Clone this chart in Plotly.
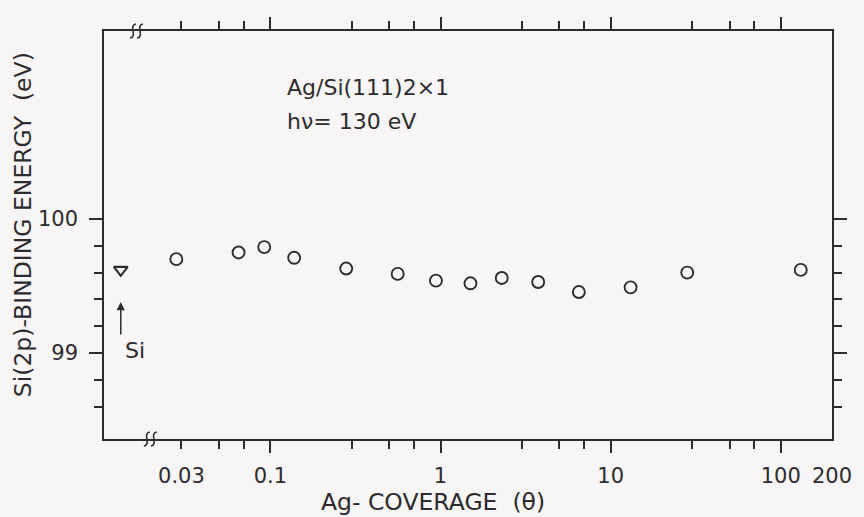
import numpy as np
import plotly.graph_objects as go

# ---- data ----
coverage = [0.028, 0.065, 0.092, 0.138, 0.279, 0.56, 0.94, 1.5, 2.29, 3.75, 6.5, 13.1, 28.2, 131]
binding_energy = [99.70, 99.75, 99.79, 99.71, 99.63, 99.59, 99.54, 99.52, 99.56, 99.53, 99.455, 99.49, 99.60, 99.62]
si_ref_position = [0.0132]   # plotted left of the axis break
si_ref_energy = [99.62]

x_major = [0.1, 1, 10, 100]
x_minor = [0.03, 0.05, 0.07, 0.3, 0.5, 0.7, 3, 5, 7, 30, 50, 70]
x_label_vals = [0.03, 0.1, 1, 10, 100, 200]
x_label_text = ["0.03", "0.1", "1", "10", "100", "200"]
y_major = [99, 100]
y_major_text = ["99", "100"]
y_minor = [98.6, 98.8, 99.2, 99.4, 99.6, 99.8]

# ---- style ----
INK = "#2d2b2d"
BG = "#f7f5f6"
FONT = "DejaVu Sans"
XR = [-1.978, 2.301]
YR = [98.36, 101.40]
LW = 1.6
CLEAR = "rgba(0,0,0,0)"
PLOT_H = 517 - 31 - 78
PX = (YR[1] - YR[0]) / PLOT_H   # data units per pixel on y

fig = go.Figure()
fig.add_trace(go.Scatter(
    x=coverage, y=binding_energy, mode="markers",
    marker=dict(symbol="circle-open", size=12, color=INK, line=dict(width=1.9, color=INK)),
    showlegend=False, hoverinfo="skip"))
fig.add_trace(go.Scatter(
    x=si_ref_position, y=si_ref_energy, mode="markers",
    marker=dict(symbol="triangle-down-open", size=12, color=INK, line=dict(width=2.1, color=INK)),
    showlegend=False, hoverinfo="skip"))

# top-edge tick marks drawn as upward error bars from the top of the y range
top_ticks = x_major + x_minor
top_len = [13 * PX] * len(x_major) + [8 * PX] * len(x_minor)
fig.add_trace(go.Scatter(
    x=top_ticks, y=[YR[1]] * len(top_ticks), mode="markers",
    marker=dict(size=1, color=CLEAR), cliponaxis=False,
    error_y=dict(type="data", symmetric=False, array=top_len,
                 arrayminus=[0] * len(top_ticks), width=0, thickness=LW, color=INK),
    showlegend=False, hoverinfo="skip"))

tick_font = dict(family=FONT, size=21, color=INK)

fig.update_layout(
    width=864, height=517,
    margin=dict(l=104, r=22, t=31, b=78),
    paper_bgcolor=BG, plot_bgcolor=BG,
    xaxis=dict(type="log", range=XR, showgrid=False, zeroline=False,
               tickmode="array", tickvals=x_major, ticks="outside", ticklen=12,
               tickwidth=LW, tickcolor=INK, showticklabels=False,
               minor=dict(tickmode="array", tickvals=x_minor, ticks="outside",
                          ticklen=8, tickwidth=LW, tickcolor=INK, showgrid=False),
               showline=True, linecolor=INK, linewidth=LW, mirror="ticks"),
    yaxis=dict(range=YR, showgrid=False, zeroline=False,
               tickmode="array", tickvals=y_major, ticktext=y_major_text,
               ticks="outside", ticklen=13, tickwidth=LW, tickcolor=INK,
               tickfont=tick_font, ticklabelstandoff=7,
               minor=dict(tickmode="array", tickvals=y_minor, ticks="outside",
                          ticklen=8, tickwidth=LW, tickcolor=INK, showgrid=False),
               showline=True, linecolor=INK, linewidth=LW, mirror="ticks"),
    # label-only x axis (invisible ticks set the label offset)
    xaxis3=dict(type="log", range=XR, overlaying="x", anchor="y", side="bottom",
                showgrid=False, zeroline=False, showline=False,
                tickmode="array", tickvals=x_label_vals, ticktext=x_label_text,
                ticks="outside", ticklen=18, tickcolor=CLEAR, tickfont=tick_font),
)

fig.add_trace(go.Scatter(x=[None], y=[None], xaxis="x3", yaxis="y", showlegend=False,
                         hoverinfo="skip"))

txt = dict(family=FONT, size=22, color=INK)
ttl = dict(family=FONT, size=23.5, color=INK)
fig.add_annotation(text="Ag/Si(111)2×1", xref="paper", yref="paper", x=0.2493, y=0.862,
                   xanchor="left", yanchor="middle", showarrow=False, font=txt)
fig.add_annotation(text="hν= 130 eV", xref="paper", yref="paper", x=0.2493, y=0.779,
                   xanchor="left", yanchor="middle", showarrow=False, font=txt)
fig.add_annotation(text="Si(2p)-BINDING ENERGY  (eV)", xref="paper", yref="paper",
                   x=-0.111, y=0.5245, textangle=-90, xanchor="center", yanchor="middle",
                   showarrow=False, font=ttl)
fig.add_annotation(text="Ag- COVERAGE  (θ)", xref="paper", yref="paper",
                   x=0.452, y=-0.154, xanchor="center", yanchor="middle",
                   showarrow=False, font=ttl)
# Si reference arrow and label
fig.add_annotation(x=np.log10(si_ref_position[0]), y=si_ref_energy[0], xref="x", yref="y",
                   text="", showarrow=True, ax=0, ay=66, standoff=32,
                   arrowhead=2, arrowsize=1.1, arrowwidth=1.5, arrowcolor=INK)
fig.add_annotation(x=np.log10(si_ref_position[0]), y=si_ref_energy[0], xref="x", yref="y",
                   text="Si", showarrow=False, xshift=14, yshift=-81, font=txt)

# axis-break squiggles
def squiggle(xpaper, ypaper):
    parts = []
    for dx in (-3.5, 3.5):
        parts.append(f"M {dx+3},7 C {dx-5},6 {dx+5},-6 {dx-3},-7")
    return dict(type="path", xref="paper", yref="paper", xsizemode="pixel",
                ysizemode="pixel", xanchor=xpaper, yanchor=ypaper,
                path=" ".join(parts), line=dict(color=INK, width=1.6))

fig.add_shape(**squiggle(0.0447, 1))
fig.add_shape(**squiggle(0.0637, 0))

fig.write_html("out.html")
